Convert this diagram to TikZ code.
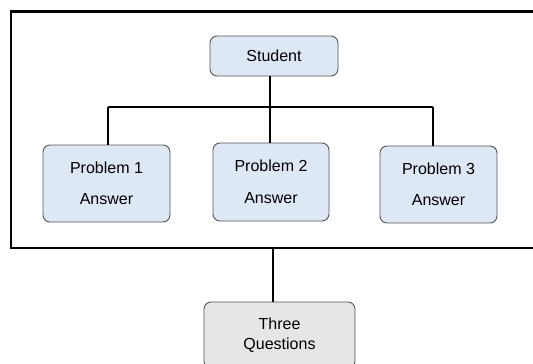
\documentclass[tikz,border=0pt]{standalone}
\usepackage{fontspec}
\setmainfont{Liberation Sans}
\usetikzlibrary{positioning}
\definecolor{cardblue}{HTML}{DEE8F5}
\definecolor{cardgray}{HTML}{E6E6E6}
\definecolor{cardedge}{HTML}{555555}
\tikzset{
	card/.style={draw=cardedge, fill=cardblue, rounded corners=7pt, line width=0.9pt,
		align=center, inner sep=0pt, font=\fontsize{16}{19.5}\selectfont},
	link/.style={line width=2.6pt},
}

\begin{document}
\begin{tikzpicture}[x=1pt,y=-1pt]
	\useasboundingbox[fill=white] (0,0) rectangle (533,364);

	% frame round the answers
	\draw[link] (545,11.5) -- (11,11.5) -- (11,248) -- (545,248);

	\node[card, minimum width=128pt, minimum height=40pt] (student) at (274,56) {Student};
	\node[card, minimum width=127pt, minimum height=77pt] (prob1) at (106.5,183.5) {Problem 1\\[12pt]Answer};
	\node[card, minimum width=116pt, minimum height=78pt] (prob2) at (271,182) {Problem 2\\[12pt]Answer};
	\node[card, minimum width=117pt, minimum height=77pt] (prob3) at (438.5,184.5) {Problem 3\\[12pt]Answer};
	\node[card, fill=cardgray, minimum width=151pt, minimum height=66pt] (questions) at (279.5,335) {Three\\Questions};

	\coordinate (hub) at (270,107);
	\coordinate (left) at (108,107);
	\coordinate (right) at (433,107);
	\coordinate (frameout) at (273,248);

	\draw[link] (hub |- student.south) -- (hub);
	\draw[link] (left) -- (right);
	\draw[link] (left) -- (left |- prob1.north);
	\draw[link] (hub) -- (hub |- prob2.north);
	\draw[link] (right) -- (right |- prob3.north);
	\draw[link] (frameout) -- (frameout |- questions.north);
\end{tikzpicture}
\end{document}
